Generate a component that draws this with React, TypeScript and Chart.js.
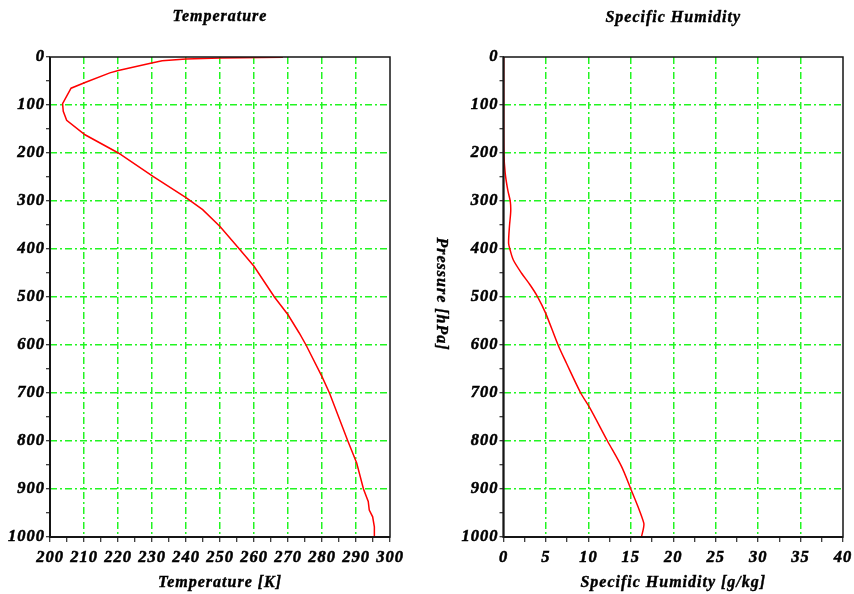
import React, { useEffect, useRef } from "react";
import { Chart, registerables } from "chart.js";

Chart.register(...registerables);

// ---- Data ----
const temperatureK = [268.5, 250, 240, 233, 229.9, 220.1, 217.6, 210.3, 206.2, 203.7, 203.9, 204.9, 210.3, 220.1, 230.4, 240, 244.9, 250, 255.7, 260, 266, 270, 273.3, 275.3, 280, 282.2, 287.6, 290.2, 292.2, 293.6, 293.9, 294.9, 295.4, 295.4];
const temperaturePressure = [0.5, 2, 4, 8, 12.5, 28, 33, 53, 65, 97, 113, 132, 162, 200, 249, 293, 318, 353, 400, 436, 500, 537, 575, 600, 666, 700, 800, 846, 900, 926, 944, 958, 979, 1000];

const humidityGkg = [0.02, 0.02, 0.05, 0.2, 0.5, 0.8, 0.85, 0.7, 0.6, 0.75, 1.16, 2.15, 3.14, 4.0, 4.95, 6.43, 7.42, 9.1, 10.17, 12.25, 13.9, 15.0, 15.85, 16.53, 16.5, 16.25];
const humidityPressure = [0, 100, 200, 242, 277, 301, 322, 353, 388, 400, 423, 451, 475, 499, 533, 600, 638, 700, 731, 800, 853, 900, 937, 971, 981, 1000];

const pressureTicks = [0, 50, 100, 150, 200, 250, 300, 350, 400, 450, 500, 550, 600, 650, 700, 750, 800, 850, 900, 950, 1000];
const pressureLabels = [0, 100, 200, 300, 400, 500, 600, 700, 800, 900, 1000];
const pressureGrid = [100, 200, 300, 400, 500, 600, 700, 800, 900];

const temperatureTicks = [200, 205, 210, 215, 220, 225, 230, 235, 240, 245, 250, 255, 260, 265, 270, 275, 280, 285, 290, 295, 300];
const temperatureLabels = [200, 210, 220, 230, 240, 250, 260, 270, 280, 290, 300];
const temperatureGrid = [210, 220, 230, 240, 250, 260, 270, 280, 290];

const humidityTicks = [0, 2.5, 5, 7.5, 10, 12.5, 15, 17.5, 20, 22.5, 25, 27.5, 30, 32.5, 35, 37.5, 40];
const humidityLabels = [0, 5, 10, 15, 20, 25, 30, 35, 40];
const humidityGrid = [5, 10, 15, 20, 25, 30, 35];

const FONT_FAMILY = '"Liberation Serif", "Times New Roman", serif';
const GREEN = "#22f522";
const DASH = [7, 3, 2, 3];

type PanelCfg = {
  xs: number[];
  ys: number[];
  tension: number;
  xMin: number;
  xMax: number;
  xTicks: number[];
  xLabels: number[];
  xGrid: number[];
  title: string;
  xTitle: string;
  yTitle?: string;
  yWidth: number;
  padRight: number;
  titleY: number;
};

function buildChart(canvas: HTMLCanvasElement, cfg: PanelCfg) {
  const tickFont = { family: FONT_FAMILY, size: 16.5, style: "italic" as const, weight: "bold" as const };
  const drawText = (ctx: CanvasRenderingContext2D, s: string, x: number, y: number) => {
    ctx.fillText(s, x, y);
    ctx.strokeText(s, x, y);
  };
  const decor = {
    id: "decor",
    beforeDraw(chart: any) {
      chart.ctx.letterSpacing = "1px";
    },
    afterDraw(chart: any) {
      const { ctx, chartArea: a } = chart;
      ctx.save();
      ctx.letterSpacing = "1px";
      ctx.strokeStyle = "#151515";
      ctx.lineWidth = 1.5;
      ctx.strokeRect(a.left, a.top, a.right - a.left, a.bottom - a.top);
      ctx.lineWidth = 2;
      ctx.beginPath();
      ctx.moveTo(a.left, a.top);
      ctx.lineTo(a.left, a.bottom);
      ctx.lineTo(a.right, a.bottom);
      ctx.stroke();
      ctx.fillStyle = "#000";
      ctx.strokeStyle = "#000";
      ctx.lineWidth = 0.4;
      ctx.font = `italic bold 16px ${FONT_FAMILY}`;
      ctx.textAlign = "center";
      ctx.textBaseline = "alphabetic";
      const cx = (a.left + a.right) / 2;
      drawText(ctx, cfg.title, cx, cfg.titleY);
      drawText(ctx, cfg.xTitle, cx, 587);
      if (cfg.yTitle) {
        ctx.translate(14, 294);
        ctx.rotate(Math.PI / 2);
        ctx.textBaseline = "middle";
        drawText(ctx, cfg.yTitle, 0, 0);
      }
      ctx.restore();
    },
  };

  return new Chart(canvas, {
    type: "scatter",
    data: {
      datasets: [
        {
          data: cfg.xs.map((x, i) => ({ x, y: cfg.ys[i] })),
          showLine: true,
          borderColor: "#ff0000",
          backgroundColor: "#ff0000",
          borderWidth: 1.5,
          pointRadius: 0,
          tension: cfg.tension,
          fill: false,
        },
      ],
    },
    options: {
      responsive: false,
      animation: false,
      events: [],
      layout: { padding: { left: 0, top: 57, right: cfg.padRight, bottom: 0 } },
      plugins: { legend: { display: false }, tooltip: { enabled: false }, title: { display: false } },
      scales: {
        x: {
          type: "linear",
          position: "bottom",
          min: cfg.xMin,
          max: cfg.xMax,
          afterBuildTicks: (s: any) => {
            s.ticks = cfg.xTicks.map((v) => ({ value: v }));
          },
          afterFit: (s: any) => {
            s.height = 57;
            s.paddingLeft = 0;
            s.paddingRight = 0;
          },
          ticks: {
            autoSkip: false,
            maxRotation: 0,
            minRotation: 0,
            padding: 6,
            color: "#000",
            textStrokeColor: "#000",
            textStrokeWidth: 0.5,
            font: tickFont,
            callback: (v: any) => (cfg.xLabels.includes(Number(v)) ? String(v) : ""),
          },
          grid: {
            color: (c: any) => (c.tick && cfg.xGrid.includes(c.tick.value) ? GREEN : "rgba(0,0,0,0)"),
            lineWidth: 1.5,
            tickLength: 5,
            tickColor: "#000",
            tickWidth: 1,
          },
          border: { display: false, dash: DASH },
        },
        y: {
          type: "linear",
          reverse: true,
          min: 0,
          max: 1000,
          afterBuildTicks: (s: any) => {
            s.ticks = pressureTicks.map((v) => ({ value: v }));
          },
          afterFit: (s: any) => {
            s.width = cfg.yWidth;
            s.paddingTop = 0;
            s.paddingBottom = 0;
          },
          ticks: {
            autoSkip: false,
            padding: 1,
            color: "#000",
            textStrokeColor: "#000",
            textStrokeWidth: 0.5,
            font: tickFont,
            callback: (v: any) => (pressureLabels.includes(Number(v)) ? String(v) : ""),
          },
          grid: {
            color: (c: any) => (c.tick && pressureGrid.includes(c.tick.value) ? GREEN : "rgba(0,0,0,0)"),
            lineWidth: 1.5,
            tickLength: 4,
            tickColor: "#000",
            tickWidth: 1,
          },
          border: { display: false, dash: DASH },
        },
      },
    },
    plugins: [decor],
  } as any);
}

export default function App() {
  const leftRef = useRef<HTMLCanvasElement>(null);
  const rightRef = useRef<HTMLCanvasElement>(null);

  useEffect(() => {
    const left = buildChart(leftRef.current!, {
      xs: temperatureK,
      ys: temperaturePressure,
      tension: 0,
      xMin: 200,
      xMax: 300,
      xTicks: temperatureTicks,
      xLabels: temperatureLabels,
      xGrid: temperatureGrid,
      title: "Temperature",
      xTitle: "Temperature [K]",
      yWidth: 50,
      padRight: 37,
      titleY: 21,
    });
    const right = buildChart(rightRef.current!, {
      xs: humidityGkg,
      ys: humidityPressure,
      tension: 0.3,
      xMin: 0,
      xMax: 40,
      xTicks: humidityTicks,
      xLabels: humidityLabels,
      xGrid: humidityGrid,
      title: "Specific Humidity",
      xTitle: "Specific Humidity [g/kg]",
      yTitle: "Pressure [hPa]",
      yWidth: 76.5,
      padRight: 11,
      titleY: 22,
    });
    return () => {
      left.destroy();
      right.destroy();
    };
  }, []);

  return (
    <div style={{ position: "absolute", left: 0, top: 0, width: 854, height: 594, background: "#fff" }}>
      <canvas ref={leftRef} width={427} height={594} style={{ position: "absolute", left: 0, top: 0, width: 427, height: 594 }} />
      <canvas ref={rightRef} width={427} height={594} style={{ position: "absolute", left: 427, top: 0, width: 427, height: 594 }} />
    </div>
  );
}
